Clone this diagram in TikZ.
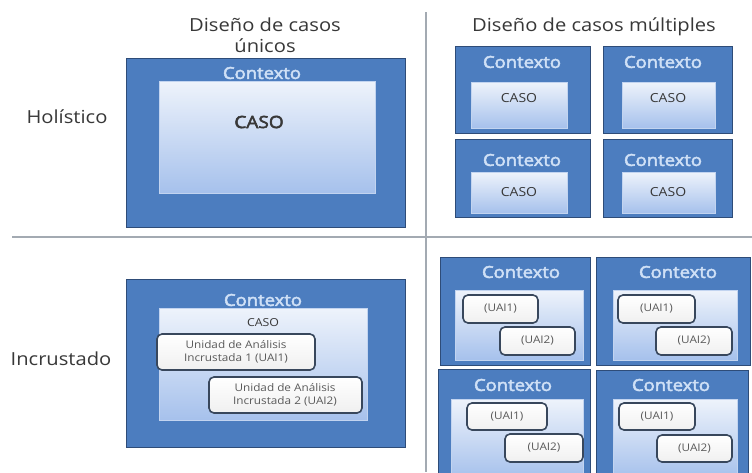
\documentclass[tikz,border=0pt]{standalone}
\usepackage{fontspec}
\setmainfont{Open Sans}[FakeStretch=1.12]
\newfontfamily\ctxfont{Open Sans}[FakeStretch=1.12, FakeBold=3]
\usetikzlibrary{fit}
\definecolor{ctxblue}{HTML}{4C7DBF}
\definecolor{ctxedge}{HTML}{2E4C78}
\definecolor{casetop}{HTML}{EEF3FB}
\definecolor{casebot}{HTML}{A6C1EC}
\definecolor{caseedge}{HTML}{C2D4F0}
\definecolor{ctxtext}{HTML}{CFE0F6}
\definecolor{darktext}{HTML}{383838}
\definecolor{uaiedge}{HTML}{38475C}
\definecolor{uaitext}{HTML}{5A5A5A}
\definecolor{gridline}{HTML}{A3AAB2}
\tikzset{
  outerbox/.style={draw=ctxedge, line width=1pt, fill=ctxblue, inner sep=0pt, outer sep=0pt},
  innerbox/.style={draw=caseedge, line width=0.6pt, top color=casetop, bottom color=casebot, inner sep=0pt},
  uaibox/.style={draw=uaiedge, line width=1.6pt, rounded corners=5pt, top color=white, bottom color=black!6, inner sep=0pt},
  ctxlabel/.style={text=ctxtext, font=\ctxfont\fontsize{16.5}{18}\selectfont, inner sep=0pt},
  headlabel/.style={text=darktext, font=\fontsize{18}{21.5}\selectfont, inner sep=0pt, align=center},
  bigcase/.style={text=darktext, font=\ctxfont\fontsize{17}{20}\selectfont, inner sep=0pt},
  smallcase/.style={text=darktext, font=\fontsize{12.5}{14}\selectfont, inner sep=0pt},
  uailabel/.style={text=uaitext, font=\fontsize{10.5}{13}\selectfont, inner sep=0pt, align=center},
  gridrule/.style={draw=gridline, line width=1.3pt}
}
\begin{document}
\begin{tikzpicture}[x=1pt,y=-1pt]
\useasboundingbox (0,0) rectangle (752,472);
\clip (0,0) rectangle (752,472);
\fill[white] (0,0) rectangle (752,472);
% grid lines
\coordinate (vtop) at (426,12);
\coordinate (vbot) at (426,472);
\coordinate (hl) at (12,237);
\coordinate (hr) at (752,237);
\draw[gridrule] (vtop) -- (vbot);
\draw[gridrule] (hl) -- (hr);
% headings
\node[headlabel] (h1) at (265,35) {Diseño de casos\\únicos};
\node[headlabel] (h2) at (594,27) {Diseño de casos múltiples};
\node[headlabel] (r1) at (67,117) {Holístico};
\node[headlabel] (r2) at (61,359) {Incrustado};
% single holistic
\node[outerbox, fit={(126,58) (405,227)}] (sh) {};
\node[ctxlabel] (shc) at (262,73) {Contexto};
\node[innerbox, fit={(159,81) (375,193)}] (shi) {};
\node[bigcase] (shk) at (259,122) {CASO};
% multiple holistic
\node[outerbox, fit={(455,46) (590,133)}] (m1) {};
\node[ctxlabel] (m1c) at (522,62) {Contexto};
\node[innerbox, fit={(471,82) (567,128)}] (m1i) {};
\node[smallcase] (m1k) at (519,98) {CASO};
\node[outerbox, fit={(603,46) (732,133)}] (m2) {};
\node[ctxlabel] (m2c) at (663,62) {Contexto};
\node[innerbox, fit={(622,82) (715,128)}] (m2i) {};
\node[smallcase] (m2k) at (668,98) {CASO};
\node[outerbox, fit={(455,139) (590,217)}] (m3) {};
\node[ctxlabel] (m3c) at (522,160) {Contexto};
\node[innerbox, fit={(471,172) (567,213)}] (m3i) {};
\node[smallcase] (m3k) at (519,192) {CASO};
\node[outerbox, fit={(603,139) (732,217)}] (m4) {};
\node[ctxlabel] (m4c) at (663,160) {Contexto};
\node[innerbox, fit={(622,172) (715,213)}] (m4i) {};
\node[smallcase] (m4k) at (668,192) {CASO};
% single embedded
\node[outerbox, fit={(126,279) (405,447)}] (se) {};
\node[ctxlabel] (sec) at (263,300) {Contexto};
\node[innerbox, fit={(159,308) (367,420)}] (sei) {};
\node[smallcase, font=\fontsize{11}{13}\selectfont] (sek) at (263,323) {CASO};
\node[uaibox, fit={(157,334) (315,370)}] (su1) {};
\node[uailabel] (su1t) at (236,352) {Unidad de Análisis\\Incrustada 1 (UAI1)};
\node[uaibox, fit={(209,377) (362,413)}] (su2) {};
\node[uailabel] (su2t) at (285,395) {Unidad de Análisis\\Incrustada 2 (UAI2)};
% multiple embedded
\node[outerbox, fit={(440,257) (590,365)}] (e1) {};
\node[ctxlabel] (e1c) at (521,272) {Contexto};
\node[innerbox, fit={(455,290) (583,360)}] (e1i) {};
\node[uaibox, fit={(463,295) (538,323)}] (e1a) {};
\node[uailabel] (e1at) at (e1a.center) {(UAI1)};
\node[uaibox, fit={(500,327) (575,355)}] (e1b) {};
\node[uailabel] (e1bt) at (e1b.center) {(UAI2)};
\node[outerbox, fit={(596,257) (750,365)}] (e2) {};
\node[ctxlabel] (e2c) at (678,272) {Contexto};
\node[innerbox, fit={(613,290) (737,360)}] (e2i) {};
\node[uaibox, fit={(618,295) (695,323)}] (e2a) {};
\node[uailabel] (e2at) at (e2a.center) {(UAI1)};
\node[uaibox, fit={(656,327) (732,355)}] (e2b) {};
\node[uailabel] (e2bt) at (e2b.center) {(UAI2)};
\node[outerbox, fit={(438,369) (590,478)}] (e3) {};
\node[ctxlabel] (e3c) at (513,385) {Contexto};
\node[innerbox, fit={(451,399) (583,478)}] (e3i) {};
\node[uaibox, fit={(467,403) (547,430)}] (e3a) {};
\node[uailabel] (e3at) at (e3a.center) {(UAI1)};
\node[uaibox, fit={(505,434) (583,462)}] (e3b) {};
\node[uailabel] (e3bt) at (e3b.center) {(UAI2)};
\node[outerbox, fit={(596,370) (748,478)}] (e4) {};
\node[ctxlabel] (e4c) at (671,385) {Contexto};
\node[innerbox, fit={(613,399) (737,478)}] (e4i) {};
\node[uaibox, fit={(619,403) (695,430)}] (e4a) {};
\node[uailabel] (e4at) at (e4a.center) {(UAI1)};
\node[uaibox, fit={(657,435) (732,462)}] (e4b) {};
\node[uailabel] (e4bt) at (e4b.center) {(UAI2)};
\end{tikzpicture}
\end{document}
